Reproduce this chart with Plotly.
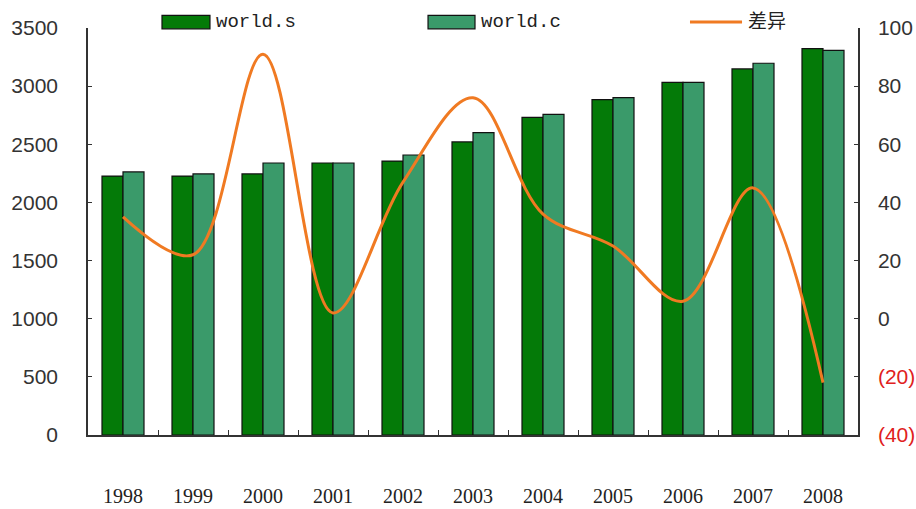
import plotly.graph_objects as go

years = ["1998", "1999", "2000", "2001", "2002", "2003", "2004", "2005", "2006", "2007", "2008"]
world_s = [2227, 2227, 2245, 2339, 2356, 2520, 2732, 2884, 3033, 3148, 3322]
world_c = [2262, 2245, 2339, 2339, 2408, 2600, 2758, 2901, 3033, 3197, 3308]
diff = [35, 22, 91, 2, 47, 76, 36, 25, 6, 45, -22]

right_ticks = [-40, -20, 0, 20, 40, 60, 80, 100]
right_text = ["<span style='color:#e02020'>(40)</span>",
              "<span style='color:#e02020'>(20)</span>",
              "0", "20", "40", "60", "80", "100"]

DARK = "#047a08"
LIGHT = "#3a9a6a"
ORANGE = "#f07a22"

fig = go.Figure()
fig.add_bar(x=years, y=world_s, name="world.s", marker=dict(color=DARK, line=dict(color="#111", width=1.2)))
fig.add_bar(x=years, y=world_c, name="world.c", marker=dict(color=LIGHT, line=dict(color="#111", width=1.2)))
fig.add_scatter(x=years, y=diff, name="差异", yaxis="y2", mode="lines",
                line=dict(color=ORANGE, width=3, shape="spline", smoothing=1.0))

tick_font = dict(family="Liberation Sans, Arial, sans-serif", size=21, color="#333")

fig.update_layout(
    width=916, height=509,
    margin=dict(l=88, r=58, t=28, b=74),
    paper_bgcolor="white", plot_bgcolor="white",
    showlegend=False,
    barmode="group", bargap=0.4, bargroupgap=0,
    xaxis=dict(type="category", range=[-0.5, 10.5], showline=True, linecolor="#333", linewidth=1.5,
               ticks="inside", tickson="boundaries", ticklen=5, tickcolor="#333",
               ticklabelstandoff=42, automargin=False,
               tickfont=dict(family="Liberation Serif, serif", size=20, color="#222"),
               showgrid=False, zeroline=False),
    yaxis=dict(range=[0, 3500], dtick=500, showline=True, linecolor="#333", linewidth=1.5,
               ticks="inside", ticklen=4, tickcolor="#333", ticklabelstandoff=24, automargin=False,
               tickfont=tick_font, showgrid=False, zeroline=False),
    yaxis2=dict(range=[-40, 100], overlaying="y", side="right", tickvals=right_ticks, ticktext=right_text,
                showline=True, linecolor="#333", linewidth=1.5, ticks="inside", ticklen=4, tickcolor="#333",
                ticklabelstandoff=14, automargin=False, tickfont=tick_font, showgrid=False, zeroline=False),
)

# legend drawn along the top edge
legend_items = [
    ("rect", DARK, "world.s", 0.0961, 0.1584),
    ("rect", LIGHT, "world.c", 0.4416, 0.5026),
    ("line", ORANGE, "差异", 0.7818, 0.8494),
]
for kind, color, label, x0, x1 in legend_items:
    if kind == "rect":
        fig.add_shape(type="rect", xref="paper", yref="paper", x0=x0, x1=x1, y0=0.998, y1=1.031,
                      fillcolor=color, line=dict(color="#111", width=1.2))
    else:
        fig.add_shape(type="line", xref="paper", yref="paper", x0=x0, x1=x1, y0=1.0147, y1=1.0147,
                      line=dict(color=color, width=3))
    fig.add_annotation(xref="paper", yref="paper", x=x1 + 0.005, y=1.0147, text=label, showarrow=False,
                       xanchor="left", yanchor="middle",
                       font=dict(family="Liberation Mono, Noto Sans CJK SC, monospace", size=19, color="#222"))

fig.write_html("out.html")
